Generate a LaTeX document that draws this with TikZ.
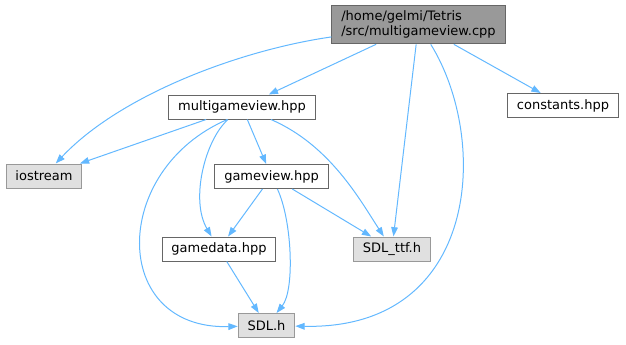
\documentclass[tikz,border=0pt]{standalone}
\usepackage{fontspec}
\setmainfont{DejaVu Sans}
\usetikzlibrary{arrows.meta}
\definecolor{edgeblue}{HTML}{63B8FF}
\definecolor{boxline}{HTML}{666666}
\definecolor{rootfill}{HTML}{999999}
\definecolor{extfill}{HTML}{E0E0E0}

\begin{document}
\begin{tikzpicture}[x=0.75pt,y=-0.75pt,
  file/.style={draw=boxline,fill=white,line width=0.75pt,inner xsep=7pt,
    minimum height=18pt,font=\fontsize{9.75}{11.5}\selectfont},
  current/.style={file,fill=rootfill,align=left,minimum height=29pt},
  extern/.style={file,draw=rootfill,fill=extfill},
  inc/.style={draw=edgeblue,line width=0.75pt,-{Triangle[length=7pt,width=5pt]}}]
\useasboundingbox (0,0) rectangle (626,344);
% Include graph
\node[current] (root) at (418.5,24.5) {/home/gelmi/Tetris\\/src/multigameview.cpp};

\node[file] (multi) at (242,107) {multigameview.hpp};
\node[file] (consts) at (563,105.5) {constants.hpp};

\node[extern] (iostream) at (44,176) {iostream};
\node[file] (gameview) at (271.5,176.5) {gameview.hpp};

\node[file] (gamedata) at (219,249) {gamedata.hpp};
\node[extern] (ttf) at (392,249) {SDL\_ttf.h};

\node[extern] (sdl) at (266.5,325.5) {SDL.h};

\draw[inc] (root) .. controls (240,50) and (120,95) .. (iostream);
\draw[inc] (root) -- (multi);
\draw[inc] (root) -- (consts);
\draw[inc] (root) -- (ttf);
\draw[inc] (root) .. controls (490,140) and (480,330) .. (sdl);
\draw[inc] (multi) -- (iostream);
\draw[inc] (multi) -- (gameview);
\draw[inc] (multi) .. controls (205,140) and (190,200) .. (gamedata);
\draw[inc] ([xshift=-11pt]multi.south) .. controls (110,170) and (110,330) .. (sdl);
\draw[inc] (multi) .. controls (330,145) and (360,200) .. (ttf);
\draw[inc] (gameview) -- (gamedata);
\draw[inc] (gameview) -- (ttf);
\draw[inc] (gameview) .. controls (292,220) and (295,290) .. (sdl);
\draw[inc] (gamedata) -- (sdl);
\end{tikzpicture}
\end{document}
